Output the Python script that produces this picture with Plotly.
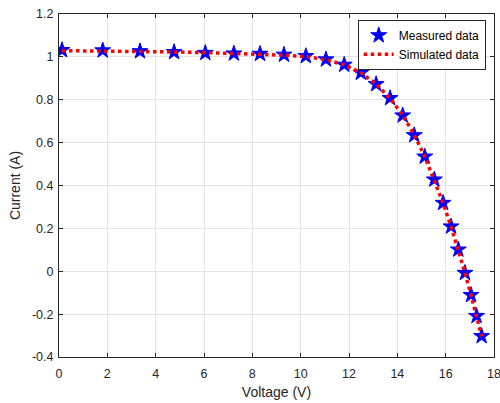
import plotly.graph_objects as go

voltage = [0.1248, 1.8093, 3.3511, 4.7622, 6.0538, 7.2364, 8.3189, 9.3097, 10.2163,
           11.0449, 11.8018, 12.4929, 13.1231, 13.6983, 14.2221, 14.6995, 15.1346,
           15.5311, 15.8929, 16.2229, 16.5241, 16.7987, 17.0499, 17.2793, 17.4885]
current_measured = [1.0315, 1.0300, 1.0260, 1.0220, 1.0180, 1.0155, 1.0140, 1.0100,
                    1.0035, 0.9880, 0.9630, 0.9255, 0.8725, 0.8075, 0.7265, 0.6345,
                    0.5345, 0.4275, 0.3185, 0.2085, 0.1010, -0.0080, -0.1110, -0.2090,
                    -0.3030]
current_simulated = [1.0290, 1.0280, 1.0260, 1.0230, 1.0200, 1.0170, 1.0130, 1.0080,
                     1.0010, 0.9870, 0.9630, 0.9260, 0.8730, 0.8070, 0.7280, 0.6360,
                     0.5350, 0.4270, 0.3180, 0.2080, 0.1010, -0.0070, -0.1110, -0.2090,
                     -0.3040]

x_ticks = [0, 2, 4, 6, 8, 10, 12, 14, 16, 18]
y_ticks = [-0.4, -0.2, 0, 0.2, 0.4, 0.6, 0.8, 1, 1.2]
y_tick_text = ["-0.4", "-0.2", "0", "0.2", "0.4", "0.6", "0.8", "1", "1.2"]

font_family = "Liberation Sans, Arial, Helvetica, sans-serif"

fig = go.Figure()
fig.add_trace(go.Scatter(
    x=voltage, y=current_measured, mode="markers", name="Measured data",
    marker=dict(symbol="star", size=12, color="#0000ff",
                line=dict(color="#0000ff", width=1)),
))
fig.add_trace(go.Scatter(
    x=voltage, y=current_simulated, mode="lines", name="Simulated data",
    line=dict(color="#ff0000", width=3.5, dash="dot"),
))

axis_common = dict(
    showline=True, linecolor="#262626", linewidth=1, mirror="ticks",
    ticks="inside", ticklen=4, tickcolor="#262626", tickwidth=1,
    showgrid=True, gridcolor="#e3e3e3", gridwidth=1, zeroline=False,
    tickfont=dict(family=font_family, size=12.5, color="#262626"),
    ticklabeloverflow="allow", automargin=False,
)

fig.update_xaxes(range=[0, 18], tickvals=x_ticks, ticklabelstandoff=5,
                 title=dict(text="Voltage (V)", font=dict(family=font_family, size=14, color="#262626"), standoff=7),
                 **axis_common)
fig.update_yaxes(range=[-0.4, 1.2], tickvals=y_ticks, ticktext=y_tick_text,
                 ticklabelstandoff=2,
                 title=dict(text="Current (A)", font=dict(family=font_family, size=14, color="#262626"), standoff=8),
                 **axis_common)

fig.update_layout(
    width=500, height=403,
    margin=dict(l=59, r=6, t=14, b=46, autoexpand=False),
    paper_bgcolor="white", plot_bgcolor="white",
    showlegend=True,
    legend=dict(x=0.981, y=0.983, xanchor="right", yanchor="top",
                bgcolor="white", bordercolor="#262626", borderwidth=1,
                font=dict(family=font_family, size=12, color="#000000"),
                tracegroupgap=0, itemwidth=30),
    font=dict(family=font_family),
)

fig.write_html("out.html")
